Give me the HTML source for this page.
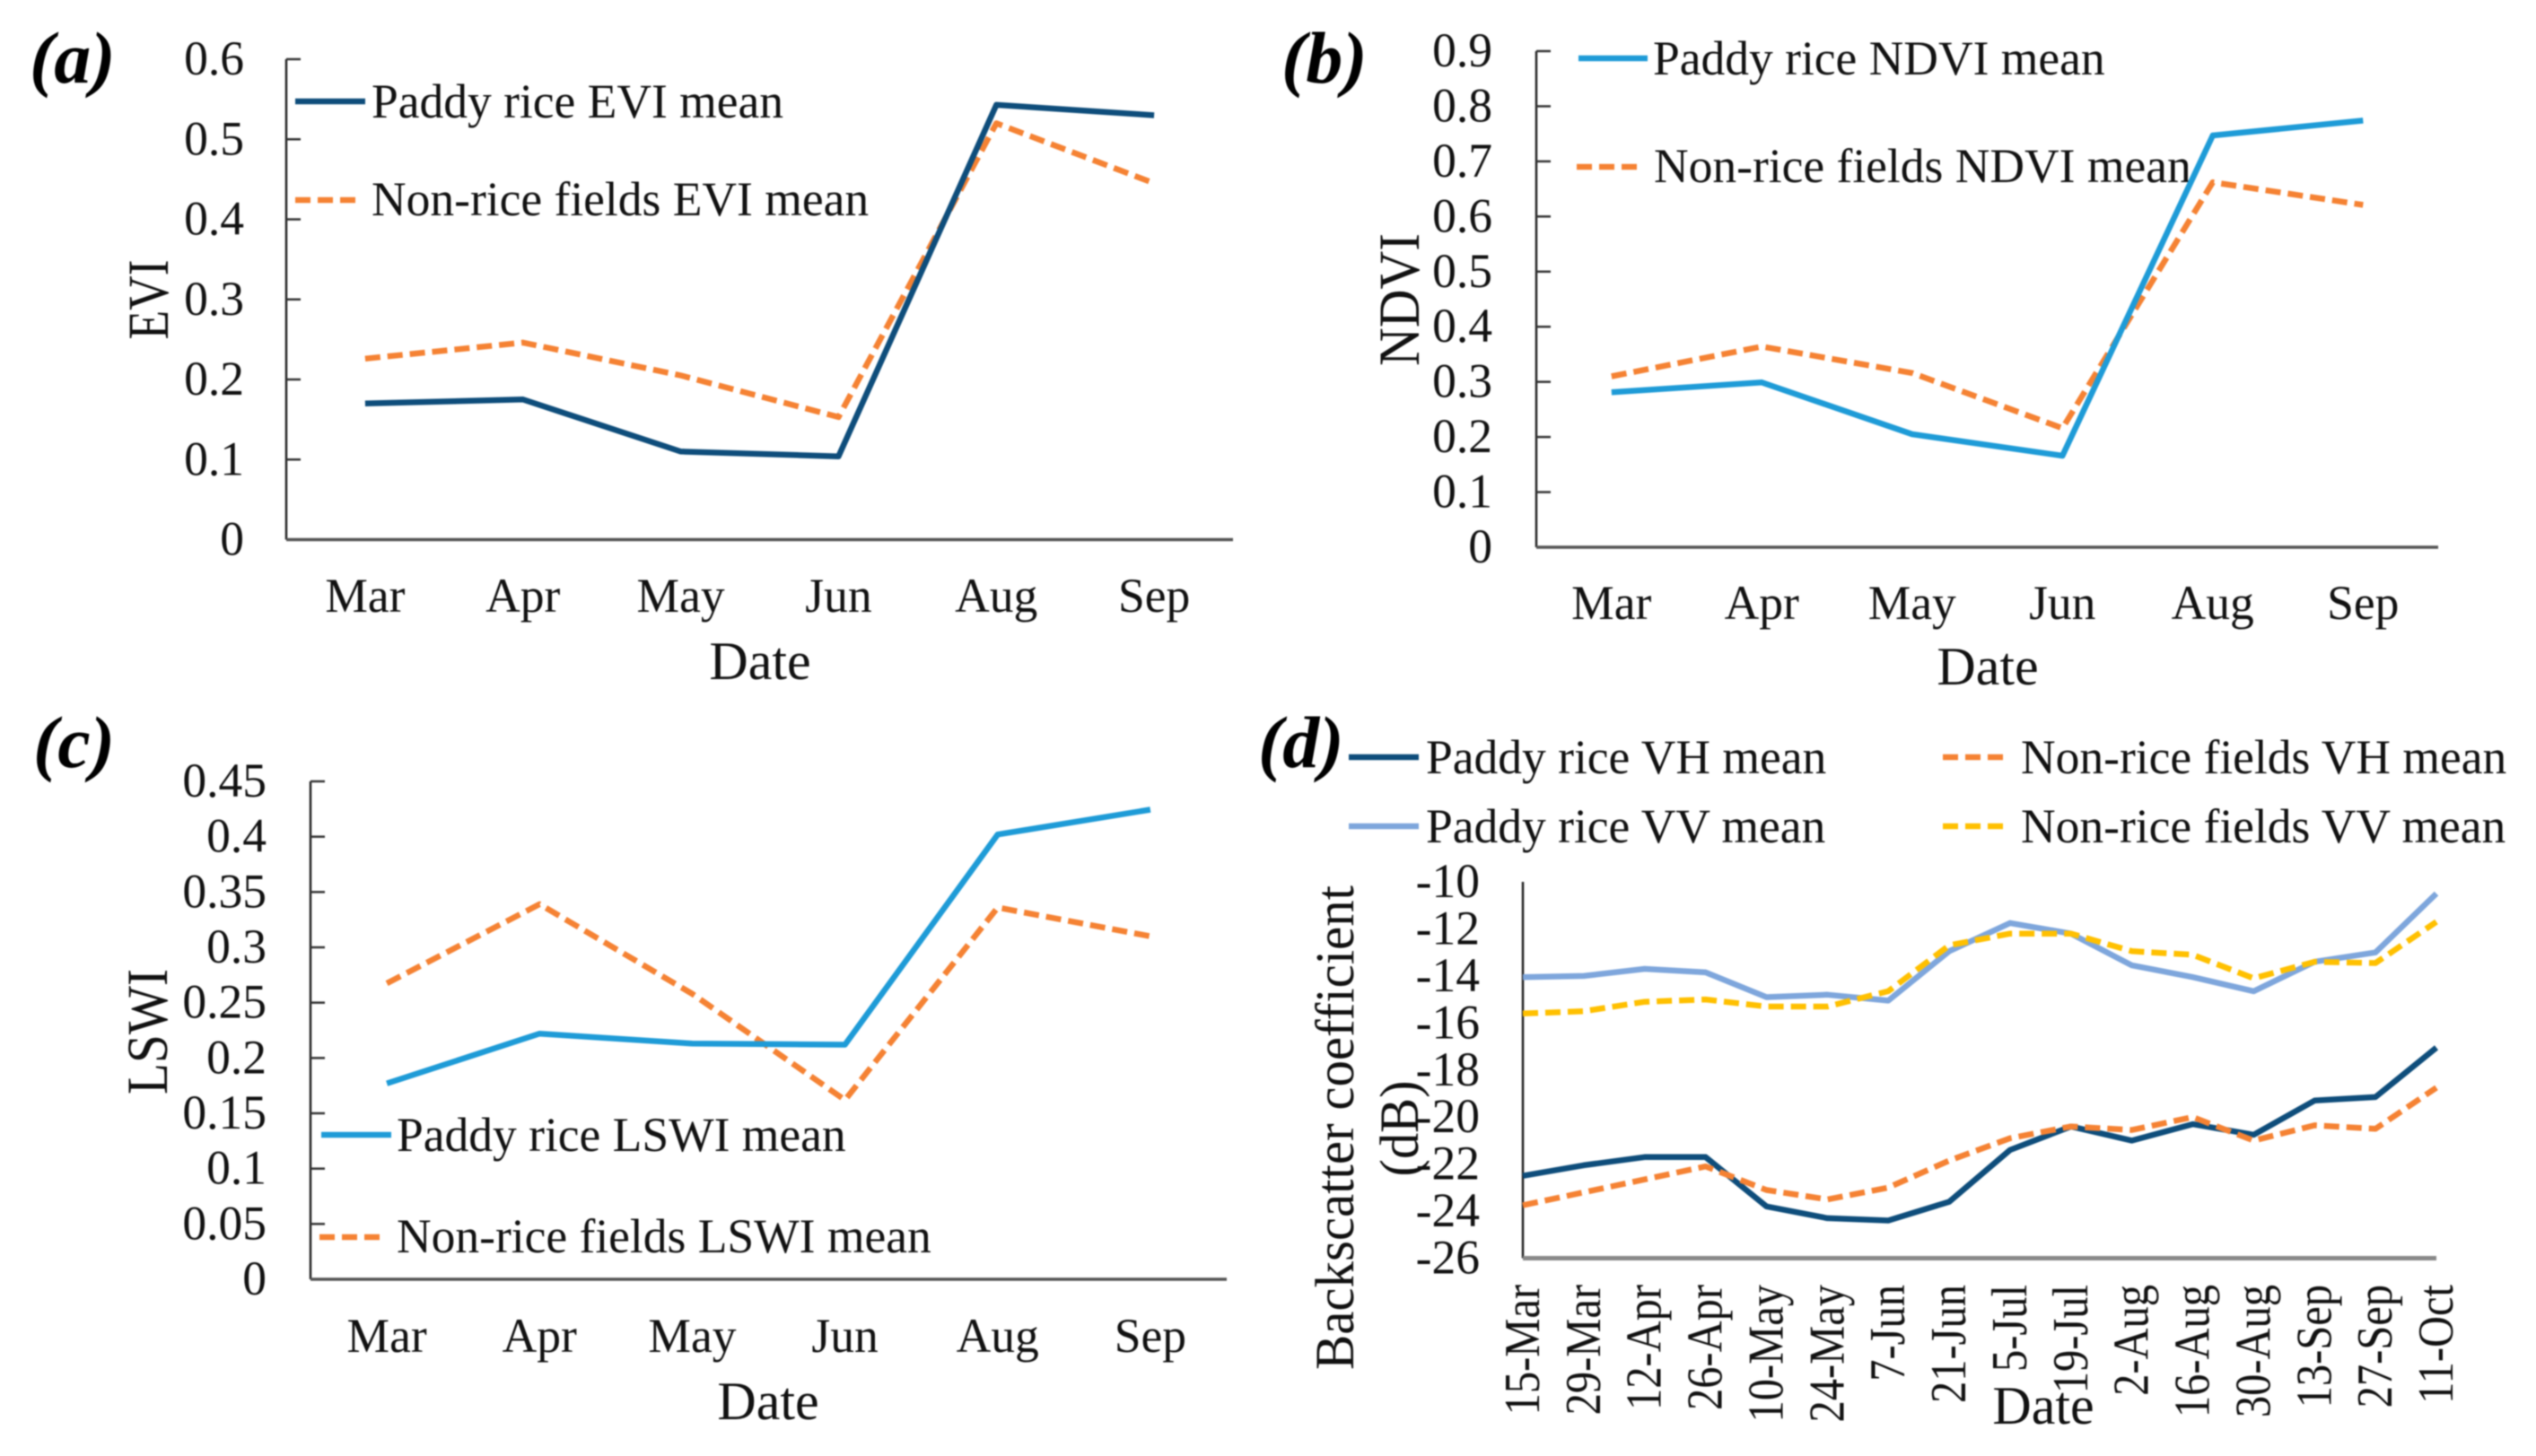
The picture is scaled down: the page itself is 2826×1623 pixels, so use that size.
<!DOCTYPE html>
<html lang="en">
<head>
<meta charset="utf-8">
<title>Paddy rice vs non-rice fields time series</title>
<style>
html,body{margin:0;padding:0;background:#fff;}
svg{display:block;filter:blur(0.8px);}
text{font-family:"Liberation Serif",serif;font-size:53.5px;fill:#111;}
.tag{font-weight:bold;font-style:italic;font-size:82px;fill:#000;}
.date{font-size:60px;}
</style>
</head>
<body>
<svg id="figure" width="2826" height="1623" viewBox="0 0 2826 1623" xmlns="http://www.w3.org/2000/svg">
<rect width="2826" height="1623" fill="#fff"/>

<g id="panel-a">
<text class="tag" x="33" y="92">(a)</text>
<text class="date" x="847" y="757" text-anchor="middle">Date</text>
<text transform="translate(187,334) rotate(-90) scale(1,1.2)" text-anchor="middle" textLength="89" lengthAdjust="spacingAndGlyphs">EVI</text>
<line x1="329" x2="407" y1="113" y2="113" stroke="#0e4d7b" stroke-width="6.5"/>
<text x="414" y="131">Paddy rice EVI mean</text>
<line x1="329" x2="398" y1="223" y2="223" stroke="#f58233" stroke-width="6.5" stroke-dasharray="17 8"/>
<text x="414" y="240">Non-rice fields EVI mean</text>
</g>

<g id="panel-b">
<text class="tag" x="1428" y="92">(b)</text>
<text class="date" x="2215" y="763" text-anchor="middle">Date</text>
<text transform="translate(1581,334) rotate(-90) scale(1,1.2)" text-anchor="middle" textLength="148" lengthAdjust="spacingAndGlyphs">NDVI</text>
<line x1="1759" x2="1836" y1="65" y2="65" stroke="#1e9bd7" stroke-width="6.5"/>
<text x="1842" y="83">Paddy rice NDVI mean</text>
<line x1="1757" x2="1827" y1="186" y2="186" stroke="#f58233" stroke-width="6.5" stroke-dasharray="17 8"/>
<text x="1843" y="203">Non-rice fields NDVI mean</text>
</g>

<g id="panel-c">
<text class="tag" x="37" y="855">(c)</text>
<text class="date" x="856" y="1582" text-anchor="middle">Date</text>
<text transform="translate(186,1150) rotate(-90) scale(1,1.2)" text-anchor="middle" textLength="140" lengthAdjust="spacingAndGlyphs">LSWI</text>
<line x1="358" x2="436" y1="1265" y2="1265" stroke="#1e9bd7" stroke-width="6.5"/>
<text x="442" y="1283">Paddy rice LSWI mean</text>
<line x1="356" x2="426" y1="1379" y2="1379" stroke="#f58233" stroke-width="6.5" stroke-dasharray="17 8"/>
<text x="442" y="1396">Non-rice fields LSWI mean</text>
</g>

<g id="panel-d">
<text class="tag" x="1402" y="855">(d)</text>
<text class="date" x="2277" y="1587" text-anchor="middle">Date</text>
<text transform="translate(1508,1257) rotate(-90) scale(1,1.15)" text-anchor="middle" textLength="540" lengthAdjust="spacingAndGlyphs">Backscatter coefficient</text>
<text transform="translate(1580,1258) rotate(-90) scale(1,1.15)" text-anchor="middle" textLength="107" lengthAdjust="spacingAndGlyphs">(dB)</text>
<line x1="1503" x2="1581" y1="844" y2="844" stroke="#0e4d7b" stroke-width="6.5"/>
<text x="1589" y="862">Paddy rice VH mean</text>
<line x1="1503" x2="1581" y1="921" y2="921" stroke="#7ea6dc" stroke-width="6.5"/>
<text x="1589" y="939">Paddy rice VV mean</text>
<line x1="2165" x2="2235" y1="844" y2="844" stroke="#f58233" stroke-width="6.5" stroke-dasharray="17 8"/>
<text x="2252" y="862">Non-rice fields VH mean</text>
<line x1="2165" x2="2235" y1="921" y2="921" stroke="#ffc000" stroke-width="6.5" stroke-dasharray="17 8"/>
<text x="2252" y="939">Non-rice fields VV mean</text>
</g>
</svg>

<script>
const monthCategories = ['Mar', 'Apr', 'May', 'Jun', 'Aug', 'Sep'];

const eviTicks = [0, 0.1, 0.2, 0.3, 0.4, 0.5, 0.6];
const eviPaddy = [0.17, 0.175, 0.11, 0.104, 0.543, 0.53];
const eviNonRice = [0.226, 0.246, 0.205, 0.153, 0.52, 0.445];

const ndviTicks = [0, 0.1, 0.2, 0.3, 0.4, 0.5, 0.6, 0.7, 0.8, 0.9];
const ndviPaddy = [0.281, 0.299, 0.205, 0.166, 0.747, 0.774];
const ndviNonRice = [0.31, 0.364, 0.316, 0.216, 0.662, 0.621];

const lswiTicks = [0, 0.05, 0.1, 0.15, 0.2, 0.25, 0.3, 0.35, 0.4, 0.45];
const lswiPaddy = [0.177, 0.222, 0.213, 0.212, 0.402, 0.4245];
const lswiNonRice = [0.2675, 0.339, 0.258, 0.162, 0.336, 0.31];

const sarDates = ['15-Mar', '29-Mar', '12-Apr', '26-Apr', '10-May', '24-May', '7-Jun', '21-Jun', '5-Jul', '19-Jul', '2-Aug', '16-Aug', '30-Aug', '13-Sep', '27-Sep', '11-Oct'];
const sarTicks = [-26, -24, -22, -20, -18, -16, -14, -12, -10];
const vhPaddy = [-22.5, -22.05, -21.7, -21.7, -23.8, -24.3, -24.4, -23.6, -21.4, -20.4, -21.0, -20.3, -20.75, -19.3, -19.15, -17.05];
const vhNonRice = [-23.75, -23.2, -22.65, -22.1, -23.1, -23.5, -23.0, -21.85, -20.9, -20.4, -20.55, -20.0, -21.0, -20.35, -20.5, -18.75];
const vvPaddy = [-14.05, -14.0, -13.7, -13.85, -14.9, -14.8, -15.05, -12.95, -11.75, -12.2, -13.55, -14.05, -14.65, -13.4, -13.0, -10.5];
const vvNonRice = [-15.6, -15.5, -15.1, -15.0, -15.3, -15.3, -14.65, -12.7, -12.2, -12.2, -12.95, -13.1, -14.1, -13.4, -13.45, -11.7];

const SVG_NS = 'http://www.w3.org/2000/svg';

function make(parent, tag, attrs, content) {
  const node = document.createElementNS(SVG_NS, tag);
  for (const key in attrs) node.setAttribute(key, attrs[key]);
  if (content !== undefined) node.textContent = content;
  parent.appendChild(node);
  return node;
}

function linearScale(domainMin, domainMax, rangeMin, rangeMax) {
  return function (v) {
    return rangeMin + (v - domainMin) / (domainMax - domainMin) * (rangeMax - rangeMin);
  };
}

function drawYAxis(parent, box, ticks, yScale, showTicks) {
  const axis = make(parent, 'line', {x1: box.left, x2: box.left, y1: box.top, y2: box.bottom, stroke: '#222', 'stroke-width': 2.5});
  
  
  ticks.forEach(function (t) {
    const y = yScale(t);
    if (showTicks && t !== ticks[0]) {
      const mark = make(parent, 'line', {x1: box.left, x2: box.left + 16, y1: y, y2: y, stroke: '#333', 'stroke-width': 2.5});
      
      
    }
    const label = make(parent, 'text', {x: box.labelRight, y: y + 17, 'text-anchor': 'end'}, String(t));
    
    
  });
}

function drawBaseline(parent, box, colour, width) {
  const base = make(parent, 'line', {x1: box.left, x2: box.right, y1: box.bottom, y2: box.bottom, stroke: colour, 'stroke-width': width});
  
  
}

function drawSeries(parent, values, xOf, yScale, colour, dashed) {
  const pts = values.map(function (v, i) { return xOf(i).toFixed(1) + ',' + yScale(v).toFixed(1); }).join(' ');
  const attrs = {points: pts, fill: 'none', stroke: colour, 'stroke-width': 6.5, 'stroke-linejoin': 'round'};
  if (dashed) attrs['stroke-dasharray'] = '17 8';
  const line = make(parent, 'polyline', attrs);
  
  
}

function drawMonthlyPanel(id, box, ticks, yMax, paddy, nonRice, paddyColour) {
  const parent = document.getElementById(id);
  const yScale = linearScale(0, yMax, box.bottom, box.top);
  const band = (box.right - box.left) / monthCategories.length;
  const xOf = function (i) { return box.left + band * (i + 0.5); };
  drawYAxis(parent, box, ticks, yScale, true);
  drawBaseline(parent, box, '#555', 3.5);
  monthCategories.forEach(function (name, i) {
    const label = make(parent, 'text', {x: xOf(i), y: box.xLabelY, 'text-anchor': 'middle'}, name);
    
    
  });
  drawSeries(parent, nonRice, xOf, yScale, '#f58233', true);
  drawSeries(parent, paddy, xOf, yScale, paddyColour, false);
}

drawMonthlyPanel('panel-a', {left: 319, right: 1374, top: 66, bottom: 601.5, labelRight: 272, xLabelY: 682}, eviTicks, 0.6, eviPaddy, eviNonRice, '#0e4d7b');
drawMonthlyPanel('panel-b', {left: 1712, right: 2717, top: 57, bottom: 610, labelRight: 1663, xLabelY: 690}, ndviTicks, 0.9, ndviPaddy, ndviNonRice, '#1e9bd7');
drawMonthlyPanel('panel-c', {left: 346, right: 1367, top: 871, bottom: 1426, labelRight: 297, xLabelY: 1507}, lswiTicks, 0.45, lswiPaddy, lswiNonRice, '#1e9bd7');

(function () {
  const parent = document.getElementById('panel-d');
  const box = {left: 1697, right: 2715, top: 983, bottom: 1402.5, labelRight: 1649};
  const yScale = linearScale(-26, -10, box.bottom, box.top);
  const xOf = linearScale(0, sarDates.length - 1, box.left, box.right);
  drawYAxis(parent, box, sarTicks, yScale, false);
  drawBaseline(parent, box, '#888', 5);
  sarDates.forEach(function (name, i) {
    const label = make(parent, 'text', {transform: 'translate(' + (xOf(i) + 18).toFixed(1) + ',1432) rotate(-90) scale(1,1.15)', 'text-anchor': 'end', style: 'font-size:48.5px'}, name);
    
    
  });
  drawSeries(parent, vvPaddy, xOf, yScale, '#7ea6dc', false);
  drawSeries(parent, vvNonRice, xOf, yScale, '#ffc000', true);
  drawSeries(parent, vhPaddy, xOf, yScale, '#0e4d7b', false);
  drawSeries(parent, vhNonRice, xOf, yScale, '#f58233', true);
})();
</script>
</body>
</html>
